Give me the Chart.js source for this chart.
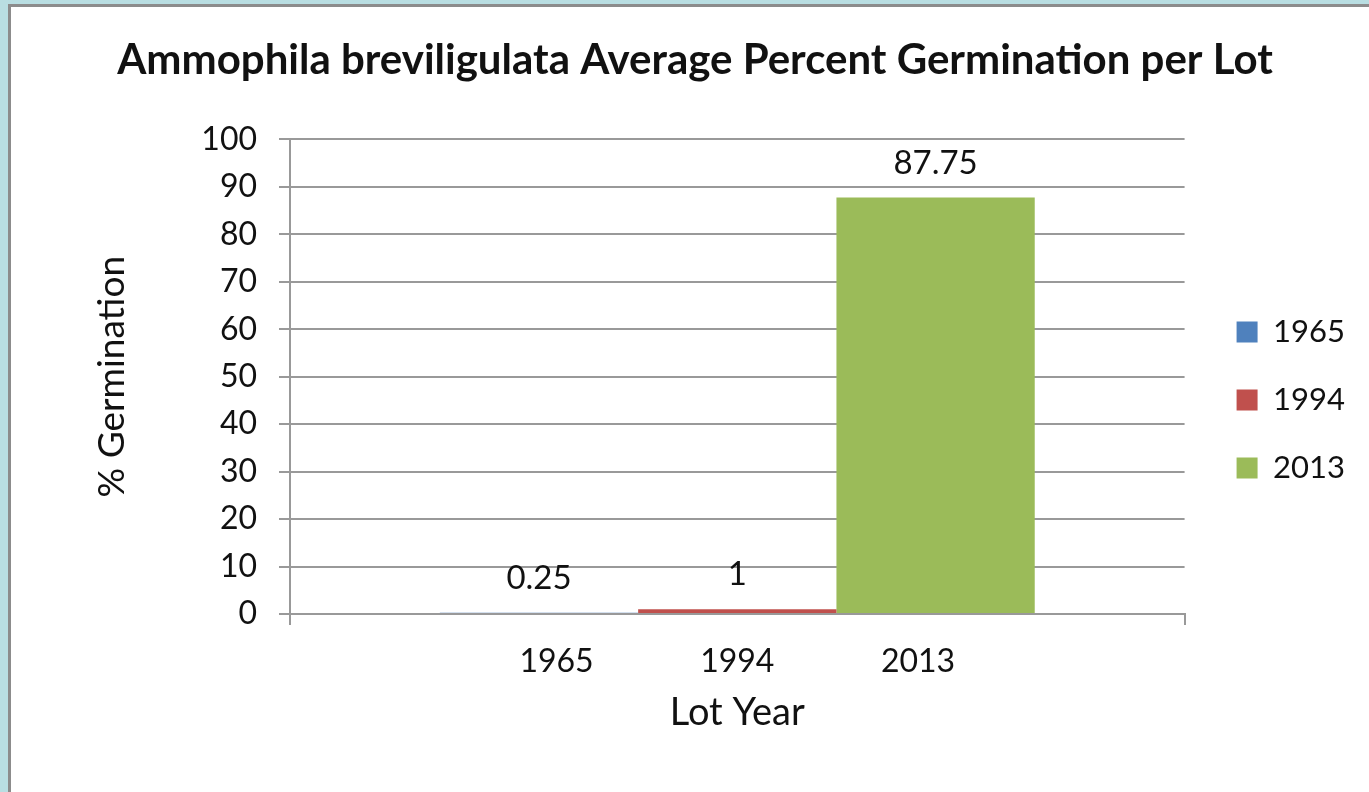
<!DOCTYPE html>
<html>
<head>
<meta charset="utf-8">
<script src="https://cdn.jsdelivr.net/npm/chart.js@4"></script>
<style>
  html, body { margin: 0; padding: 0; background: #b9dee2; overflow: hidden; }
  #frame {
    position: absolute; left: 8px; top: 4px; right: 0; bottom: 0;
    background: #fff; border-left: 3px solid #8c8c8c; border-top: 3px solid #8c8c8c;
  }
  #germChart { position: absolute; left: 0; top: 0; }
</style>
</head>
<body>
<div id="frame"></div>
<canvas id="germChart" width="1369" height="792"></canvas>
<script>
  // Prepare the data
  const lotLabel = ['1965             1994             2013'];
  const seriesNames = ['1965', '1994', '2013'];
  const germination = [0.25, 1, 87.75];
  const seriesColors = ['#4f81bd', '#c0504d', '#9bbb59'];
  const yTicks = [0, 10, 20, 30, 40, 50, 60, 70, 80, 90, 100];

  const FONT = 'Lato';

  // value labels above the bars
  const valueLabels = {
    id: 'valueLabels',
    afterDatasetsDraw(chart) {
      const ctx = chart.ctx;
      ctx.save();
      ctx.font = '33px ' + FONT;
      ctx.fillStyle = '#111';
      ctx.textAlign = 'center';
      ctx.textBaseline = 'alphabetic';
      chart.data.datasets.forEach((ds, i) => {
        chart.getDatasetMeta(i).data.forEach((bar, j) => {
          ctx.fillText(String(ds.data[j]), bar.x, bar.y - 24);
        });
      });
      ctx.restore();
    }
  };

  // nudge legend and title a little, like the Excel original
  const boxNudge = {
    id: 'boxNudge',
    afterLayout(chart) {
      const lg = chart.legend;
      lg.left += 15; lg.right += 15;
      lg.top += 29; lg.bottom += 29;
      const tb = chart.titleBlock;
      tb.left -= 15; tb.right -= 15;
    }
  };

  const ctx = document.getElementById('germChart').getContext('2d');
  new Chart(ctx, {
    type: 'bar',
    data: {
      labels: lotLabel,
      datasets: seriesNames.map((name, i) => ({
        label: name,
        data: [germination[i]],
        backgroundColor: seriesColors[i],
        borderWidth: 0,
        categoryPercentage: 0.665,
        barPercentage: 1.0
      }))
    },
    options: {
      responsive: false,
      animation: false,
      layout: { padding: { left: 80, right: 29, bottom: 50, top: 0 } },
      scales: {
        y: {
          min: 0,
          max: 100,
          afterBuildTicks: (scale) => { scale.ticks = yTicks.map(v => ({ value: v })); },
          afterFit: (scale) => { scale.width = 210; },
          ticks: { font: { family: FONT, size: 32 }, color: '#111', padding: 22 },
          grid: { color: '#999', lineWidth: 2, tickLength: 11 },
          border: { display: true, color: '#999', width: 2 },
          title: {
            display: true,
            text: '% Germination',
            font: { family: FONT, size: 37 },
            color: '#111',
            padding: { top: 10, bottom: 0 }
          }
        },
        x: {
          afterFit: (scale) => { scale.height = 128; },
          ticks: { font: { family: FONT, size: 32 }, color: '#111', padding: 17, maxRotation: 0 },
          grid: { color: '#999', lineWidth: 2, tickLength: 11, drawOnChartArea: false },
          border: { display: true, color: '#999', width: 2 },
          title: {
            display: true,
            text: 'Lot Year',
            font: { family: FONT, size: 38 },
            color: '#111',
            padding: { top: 4, bottom: 6 }
          }
        }
      },
      plugins: {
        title: {
          display: true,
          text: 'Ammophila breviligulata Average Percent Germination per Lot',
          font: { family: FONT, size: 42, weight: 'bold' },
          color: '#111',
          padding: { top: 35, bottom: 54 }
        },
        legend: {
          position: 'right',
          labels: {
            font: { family: FONT, size: 31 },
            color: '#111',
            boxWidth: 21,
            boxHeight: 21,
            padding: 37
          }
        },
        tooltip: { enabled: false }
      }
    },
    plugins: [valueLabels, boxNudge]
  });
</script>
</body>
</html>
